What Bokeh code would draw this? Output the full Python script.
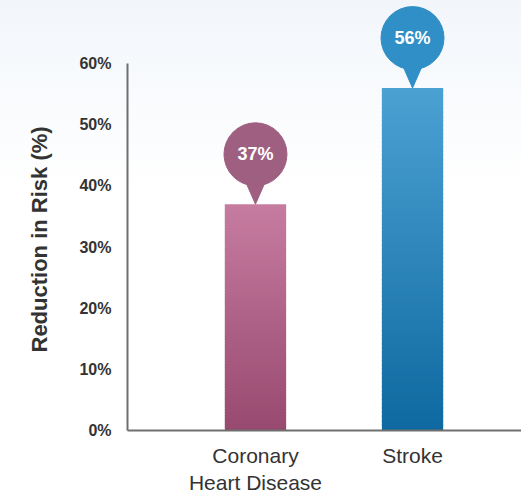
from bokeh.plotting import figure
from bokeh.models import Range1d, FixedTicker, Title
from bokeh.core.properties import value
from bokeh.embed import file_html
from bokeh.resources import INLINE

# Data
categories = ["Coronary\nHeart Disease", "Stroke"]
reduction = [37, 56]
value_labels = ["37%", "56%"]
y_ticks = [0, 10, 20, 30, 40, 50, 60]
y_tick_labels = ["0%", "10%", "20%", "30%", "40%", "50%", "60%"]
y_title = "Reduction in Risk (%)"

# Colours (top, bottom of bar gradient; callout)
bar_top = [(198, 124, 160), (76, 161, 211)]
bar_bottom = [(152, 73, 111), (14, 105, 160)]
callout = ["#9f5f80", "#2f8fc6"]

xs = [1, 2]
bar_w = 0.39
x_lo, x_hi = 0.185, 2.694
px_per_x = 394 / (x_hi - x_lo)
px_per_unit = 431 / 70.3  # vertical scale used for callout offsets

p = figure(width=521, height=497, output_backend="svg", toolbar_location=None,
           x_range=Range1d(x_lo, x_hi), y_range=Range1d(0, 70.3),
           min_border_left=127, min_border_right=0, min_border_top=0,
           min_border_bottom=60)
p.outline_line_color = None
p.grid.visible = False
p.background_fill_alpha = 0
p.border_fill_alpha = 0
p.styles = {"background-image": "linear-gradient(#f2f6fb 0%, #ffffff 38%)"}

# Gradient bars built from overlapping horizontal slices
n = 80
for x, v, ct, cb in zip(xs, reduction, bar_top, bar_bottom):
    bottoms, tops, cols = [], [], []
    step = v / n
    for i in range(n):
        b = step * i
        t = min(v, step * (i + 1) + step * 0.6)
        f = (i + 0.5) / n
        c = tuple(int(round(cb[k] + (ct[k] - cb[k]) * f)) for k in range(3))
        bottoms.append(b)
        tops.append(t)
        cols.append("#%02x%02x%02x" % c)
    p.quad(left=x - bar_w / 2, right=x + bar_w / 2, bottom=bottoms, top=tops,
           fill_color=cols, line_color=None)

# Callout bubbles above each bar
center_off = 50 / px_per_unit
tri_base = 18 / px_per_unit
tri_half = 14 / px_per_x
for x, v, c, lab in zip(xs, reduction, callout, value_labels):
    cy = v + center_off
    p.patch([x - tri_half, x + tri_half, x], [cy - tri_base, cy - tri_base, v],
            fill_color=c, line_color=c)
    p.scatter([x], [cy], size=63, marker="circle", fill_color=c, line_color=c)
    p.text([x], [cy], text=[lab], text_align="center", text_baseline="middle",
           text_color="white", text_font=value("Liberation Sans"),
           text_font_style="bold", text_font_size="18px")

# Axes
yax = p.yaxis[0]
yax.ticker = FixedTicker(ticks=y_ticks)
yax.major_label_overrides = {t: l for t, l in zip(y_ticks, y_tick_labels)}
yax.bounds = (0, 60)
yax.axis_line_color = "#6f6f6f"
yax.axis_line_width = 2
yax.major_tick_line_color = None
yax.minor_tick_line_color = None
yax.major_label_standoff = 10
yax.major_label_text_font = "Liberation Sans"
yax.major_label_text_font_style = "bold"
yax.major_label_text_font_size = "16px"
yax.major_label_text_color = "#333333"

# Y title laid out along the 0-60 span of the axis
p.add_layout(Title(text=y_title, align="left", offset=78, standoff=49,
                   text_font="Liberation Sans", text_font_style="bold",
                   text_font_size="22px", text_color="#333333"), "left")

xax = p.xaxis[0]
xax.ticker = FixedTicker(ticks=xs)
xax.major_label_overrides = {x: c for x, c in zip(xs, categories)}
xax.axis_line_color = "#6f6f6f"
xax.axis_line_width = 2
xax.major_tick_line_color = None
xax.minor_tick_line_color = None
xax.major_label_standoff = 7
xax.major_label_text_font = "Liberation Sans"
xax.major_label_text_font_size = "21px"
xax.major_label_text_color = "#333333"

open("out.html", "w").write(file_html(p, INLINE))
